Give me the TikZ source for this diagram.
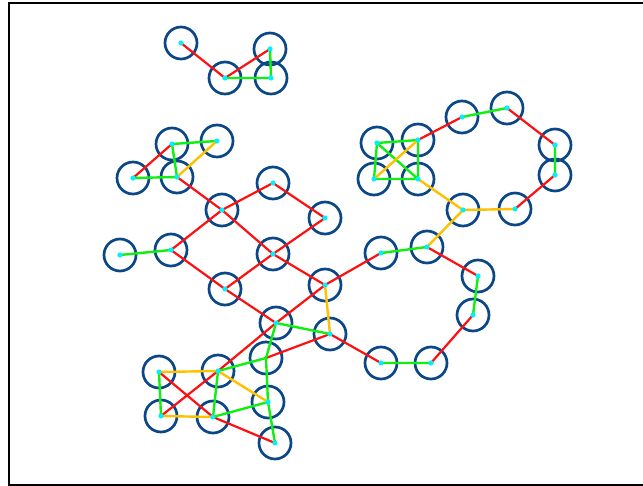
\documentclass[tikz,border=0pt]{standalone}
\usepackage{xcolor}
\usepackage{tikz}
\usetikzlibrary{calc}
\definecolor{shellblue}{HTML}{0B4787}
\definecolor{bondred}{HTML}{FF1010}
\definecolor{bondgreen}{HTML}{10F010}
\definecolor{bondorange}{HTML}{FFC000}
\definecolor{atomcyan}{HTML}{00F0FF}

\begin{document}
\begin{tikzpicture}[x=1pt,y=-1pt,
  shell/.style={shellblue,line width=2.7pt},
  redbond/.style={bondred,line width=2.2pt},
  greenbond/.style={bondgreen,line width=2.4pt},
  orangebond/.style={bondorange,line width=2.4pt}]
\useasboundingbox (0,0) rectangle (643,486);
\draw[line width=2pt] (643,3)--(8.5,3)--(8.5,484.5)--(643,484.5);
% atom centres
\coordinate (T1) at (181,43);  \coordinate (T2) at (225,78);
\coordinate (T3) at (270,49);  \coordinate (T4) at (271,78);
\coordinate (L1) at (172,144); \coordinate (L2) at (217,141);
\coordinate (L3) at (133,178); \coordinate (L4) at (177,177);
\coordinate (M1) at (222,210); \coordinate (M2) at (273,183);
\coordinate (M3) at (325,218); \coordinate (M4) at (273,254);
\coordinate (M5) at (171,250); \coordinate (M6) at (120,255);
\coordinate (M7) at (225,289); \coordinate (M8) at (325,285);
\coordinate (M9) at (276,323); \coordinate (P1) at (330,334);
\coordinate (N1) at (381,253); \coordinate (N2) at (427,247);
\coordinate (N3) at (478,276); \coordinate (N4) at (473,315);
\coordinate (N5) at (431,363); \coordinate (N6) at (381,363);
\coordinate (Q1) at (463,210); \coordinate (Q2) at (515,209);
\coordinate (S1) at (377,143); \coordinate (S2) at (418,140);
\coordinate (S3) at (374,179); \coordinate (S4) at (418,179);
\coordinate (R1) at (462,117); \coordinate (R2) at (507,108);
\coordinate (R3) at (555,145); \coordinate (R4) at (555,175);
\coordinate (B1) at (159,372); \coordinate (B2) at (218,371);
\coordinate (B3) at (161,416); \coordinate (B4) at (213,417);
\coordinate (B5) at (268,402); \coordinate (B6) at (275,443);
\coordinate (B8) at (266,358);
% shells
\foreach \a in {T1,T2,T3,T4,L1,L2,L3,L4,M1,M2,M3,M4,M5,M6,M7,M8,M9,P1,
  N1,N2,N3,N4,N5,N6,Q1,Q2,S1,S2,S3,S4,R1,R2,R3,R4,B1,B2,B3,B4,B5,B6,B8}
  \draw[shell] (\a) circle (16);
% bonds
\draw[redbond] (T1)--(T2) (T2)--(T3) (L1)--(L3) (L4)--(M1) (M1)--(M2)
  (M2)--(M3) (M3)--(M4) (M4)--(M1) (M1)--(M5) (M5)--(M7) (M7)--(M4)
  (M4)--(M8) (M7)--(M9) (M8)--(M9) (M8)--(N1) (N2)--(N3) (N4)--(N5)
  (N6)--(P1) (S2)--(R1) (R2)--(R3) (R4)--(Q2) (B1)--(B4) (B3)--(B2)
  (B2)--(M9) (B4)--(B6) (B8)--(P1);
\draw[greenbond] (T3)--(T4) (T2)--(T4) (L1)--(L2) (L1)--(L4) (L3)--(L4)
  (M5)--(M6) (N1)--(N2) (N3)--(N4) (N5)--(N6) (M9)--(P1) (R1)--(R2)
  (R3)--(R4) (S1)--(S2)--(S4)--(S3)--cycle (S1)--(S4) (B1)--(B3)
  (B2)--(B4) (M9)--(B8)--(B5)--(B6) (B2)--(B8) (B4)--(B5);
\draw[orangebond] (L2)--(L4) (M8)--(P1) (N2)--(Q1) (Q1)--(Q2) (Q1)--(S4)
  (S2)--(S3) (B1)--(B2) (B3)--(B4) (B2)--(B5);
% atoms
\foreach \a in {T1,T2,T3,T4,L1,L2,L3,L4,M1,M2,M3,M4,M5,M6,M7,M8,M9,P1,
  N1,N2,N3,N4,N5,N6,Q1,Q2,S1,S2,S3,S4,R1,R2,R3,R4,B1,B2,B3,B4,B5,B6}
  \fill[atomcyan] (\a) circle (2.6);
\end{tikzpicture}
\end{document}
